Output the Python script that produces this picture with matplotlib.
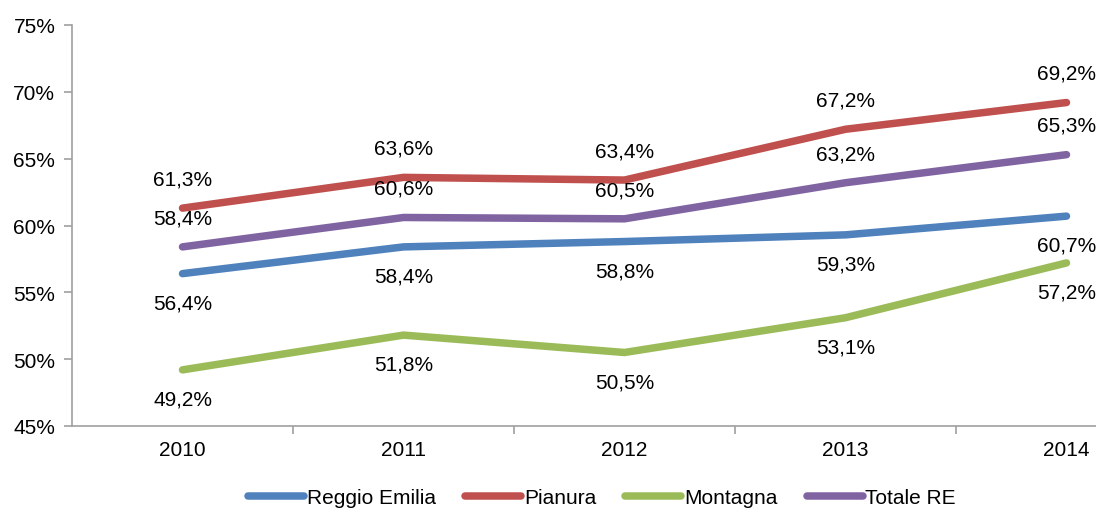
import matplotlib
matplotlib.use("Agg")
import matplotlib.pyplot as plt
from matplotlib.ticker import FixedLocator

plt.rcParams["font.family"] = ["Liberation Sans", "DejaVu Sans"]

years = ["2010", "2011", "2012", "2013", "2014"]
reggio = [56.4, 58.4, 58.8, 59.3, 60.7]
pianura = [61.3, 63.6, 63.4, 67.2, 69.2]
montagna = [49.2, 51.8, 50.5, 53.1, 57.2]
totale = [58.4, 60.6, 60.5, 63.2, 65.3]

series = [
    ("Reggio Emilia", reggio, "#4F81BD", -1),
    ("Pianura", pianura, "#C0504D", 1),
    ("Montagna", montagna, "#9BBB59", -1),
    ("Totale RE", totale, "#8064A2", 1),
]

W, H = 1096, 510
fig = plt.figure(figsize=(W / 100, H / 100), dpi=100)
# plot area runs past the right edge, as in the original crop
ax = fig.add_axes([72 / W, (H - 427) / H, 1105 / W, 401 / H])

x = list(range(len(years)))
for name, vals, col, side in series:
    ax.plot(x, vals, color=col, lw=5.4, solid_capstyle="round", label=name)
    for xi, v in zip(x, vals):
        ax.annotate(f"{v:.1f}%".replace(".", ","), (xi, v),
                    xytext=(0, 21 * side), textcoords="offset points",
                    ha="center", va="center", fontsize=15, color="black")

ax.set_xlim(-0.5, 4.5)
ax.set_ylim(45, 75)
ax.set_yticks(range(45, 76, 5))
ax.set_yticklabels([f"{v}%" for v in range(45, 76, 5)], fontsize=15)
ax.set_xticks(x)
ax.set_xticklabels(years, fontsize=15)
ax.xaxis.set_minor_locator(FixedLocator([0.5, 1.5, 2.5, 3.5]))
ax.tick_params(axis="x", which="major", length=0, pad=10)
ax.tick_params(axis="x", which="minor", length=6, color="#A0A0A0", width=1.2)
ax.tick_params(axis="y", length=6, color="#A0A0A0", width=1.2, pad=6)
for s in ("top", "right"):
    ax.spines[s].set_visible(False)
for s in ("left", "bottom"):
    ax.spines[s].set_color("#A0A0A0")
    ax.spines[s].set_linewidth(1.2)

fig.legend(loc="center", bbox_to_anchor=(602 / W, 1 - 499 / H), ncol=4,
           frameon=False, fontsize=15, handlelength=2.7, handletextpad=0.12,
           columnspacing=1.4)

fig.savefig("out.png", dpi=100)
